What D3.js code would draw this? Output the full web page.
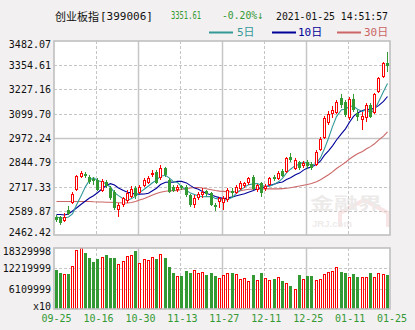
<!DOCTYPE html>
<html><head><meta charset="utf-8">
<script src="https://cdn.jsdelivr.net/npm/d3@7"></script>
<style>
html,body{margin:0;padding:0;background:#f2f0f0;}
svg{display:block;}
</style></head><body>
<svg id="c" width="415" height="330"></svg>
<script>
const dates = [
"09-25","09-28","09-29","09-30","10-09","10-12","10-13","10-14","10-15","10-16",
"10-19","10-20","10-21","10-22","10-23","10-26","10-27","10-28","10-29","10-30",
"11-02","11-03","11-04","11-05","11-06","11-09","11-10","11-11","11-12","11-13",
"11-16","11-17","11-18","11-19","11-20","11-23","11-24","11-25","11-26","11-27",
"11-30","12-01","12-02","12-03","12-04","12-07","12-08","12-09","12-10","12-11",
"12-14","12-15","12-16","12-17","12-18","12-21","12-22","12-23","12-24","12-25",
"12-28","12-29","12-30","12-31","01-04","01-05","01-06","01-07","01-08","01-11",
"01-12","01-13","01-14","01-15","01-18","01-19","01-20","01-21","01-22","01-25"];

const open = [
2558.6,2557.0,2536.0,2593.8,2630.6,2699.0,2767.3,2783.1,2767.3,2756.8,
2751.5,2693.7,2741.0,2709.5,2688.4,2593.8,2620.1,2641.1,2662.2,2709.5,
2683.2,2720.0,2735.8,2777.8,2795.1,2762.0,2814.6,2751.5,2714.7,2698.9,
2720.0,2714.7,2672.7,2620.1,2656.9,2672.7,2693.7,2683.2,2620.1,2635.9,
2630.6,2646.4,2695.3,2681.6,2702.6,2720.0,2735.8,2767.3,2698.9,2735.8,
2704.2,2725.2,2768.9,2756.8,2800.4,2793.6,2872.4,2809.3,2846.1,2825.1,
2846.1,2835.6,2830.4,2909.2,2972.2,3051.1,3098.4,3103.7,3182.5,3161.5,
3077.4,3177.3,3103.7,3066.9,3077.4,3145.7,3103.7,3214.0,3292.9,3366.4];
const high = [
2567.5,2562.3,2578.0,2614.8,2688.4,2777.8,2798.8,2793.6,2777.8,2767.3,
2762.0,2756.8,2751.5,2720.0,2698.9,2630.6,2662.2,2698.9,2720.0,2720.0,
2725.2,2762.0,2772.5,2804.1,2804.1,2830.4,2819.9,2762.0,2725.2,2725.2,
2725.2,2725.2,2677.9,2672.7,2688.4,2709.5,2698.9,2688.4,2630.6,2662.2,
2667.4,2709.5,2709.5,2725.2,2746.3,2741.0,2767.3,2777.8,2730.5,2741.0,
2730.5,2767.3,2777.8,2798.8,2809.3,2872.4,2893.4,2867.1,2851.4,2851.4,
2856.6,2846.1,2909.2,2977.5,3087.9,3114.2,3140.4,3172.0,3203.5,3172.0,
3187.8,3203.5,3119.4,3108.9,3156.2,3156.2,3208.8,3292.9,3371.7,3424.3];
const low = [
2530.7,2515.0,2530.7,2567.5,2625.4,2693.7,2762.0,2762.0,2730.5,2725.2,
2693.7,2688.4,2709.5,2646.4,2593.8,2557.0,2609.6,2630.6,2656.9,2651.7,
2677.9,2714.7,2730.5,2767.3,2730.5,2751.5,2767.3,2683.2,2688.4,2688.4,
2698.9,2662.2,2609.6,2604.3,2646.4,2656.9,2667.4,2614.8,2588.6,2604.3,
2593.8,2635.9,2663.7,2677.9,2698.9,2709.5,2725.2,2698.9,2688.4,2662.2,
2693.7,2720.0,2746.3,2751.5,2767.3,2788.3,2846.1,2804.1,2804.1,2814.6,
2809.3,2804.1,2825.1,2903.9,2967.0,3040.6,3077.4,3098.4,3130.0,3082.7,
3066.9,3108.9,3061.6,3014.3,3056.4,3077.4,3098.4,3208.8,3287.6,3319.1];
const close = [
2541.3,2522.9,2554.4,2572.8,2677.9,2772.5,2788.3,2772.5,2741.0,2746.3,
2698.9,2746.3,2720.0,2656.9,2604.3,2620.1,2656.9,2683.2,2704.2,2667.4,
2714.7,2751.5,2762.0,2789.9,2735.8,2814.6,2777.8,2690.0,2695.3,2714.7,
2709.5,2672.7,2620.1,2656.9,2677.9,2688.4,2677.9,2620.1,2609.6,2656.9,
2656.9,2698.9,2681.6,2716.3,2737.3,2735.8,2762.0,2704.2,2725.2,2683.2,
2720.0,2762.0,2756.8,2788.3,2772.5,2867.1,2856.6,2856.6,2814.6,2840.9,
2825.1,2814.6,2898.7,2966.3,3077.4,3098.4,3119.4,3161.5,3145.7,3093.2,
3177.3,3119.4,3082.7,3087.9,3145.7,3082.7,3203.5,3287.6,3366.4,3351.61];

const volume = [
11720000,10920000,10420000,10420000,12820000,17630000,18329998,16830000,15330000,14220000,
15020000,15630000,16230000,15330000,15330000,13520000,14420000,15830000,16230000,17430000,
13820000,15020000,14720000,15630000,15020000,16530000,15330000,12620000,10820000,9920000,
9920000,11420000,10820000,11720000,10820000,11120000,10220000,10820000,9920000,9320000,
10220000,10820000,10820000,10520000,9010000,9320000,8410000,10220000,8710000,10820000,
9320000,8710000,9010000,9620000,8410000,7810000,6910000,6010000,10220000,9010000,
9920000,9920000,8710000,9010000,10520000,11120000,11420000,12620000,11120000,10820000,
9620000,10520000,9620000,9620000,9620000,10820000,9620000,10820000,10520000,10220000];

const ma5 = [
2557.0,2551.8,2551.8,2557.0,2573.8,2620.1,2673.2,2716.8,2750.4,2764.1,
2749.4,2741.0,2730.5,2713.6,2685.3,2669.5,2651.6,2644.3,2653.7,2666.3,
2685.3,2704.2,2720.0,2737.3,2751.0,2770.9,2776.2,2761.5,2742.6,2738.4,
2717.3,2696.3,2682.6,2674.8,2667.4,2663.2,2664.2,2664.2,2654.8,2650.6,
2644.3,2648.5,2660.6,2682.1,2698.4,2714.2,2726.8,2731.0,2733.1,2722.1,
2718.9,2718.9,2729.4,2742.0,2759.9,2789.3,2808.3,2828.2,2833.5,2847.2,
2838.7,2830.3,2838.7,2869.2,2916.5,2971.2,3032.2,3084.7,3120.5,3123.6,
3139.4,3139.4,3123.6,3112.1,3122.6,3103.6,3120.5,3161.5,3217.2,3258.2];
const ma10 = [
2570.2,2570.2,2567.5,2572.8,2588.6,2604.3,2625.4,2641.1,2656.9,2669.0,
2684.7,2706.8,2723.6,2732.0,2724.7,2709.5,2696.3,2687.4,2683.7,2675.8,
2677.4,2677.9,2682.1,2695.3,2708.4,2727.8,2739.9,2741.0,2739.9,2744.7,
2744.1,2736.3,2722.1,2708.9,2703.1,2690.5,2680.5,2673.2,2664.8,2659.0,
2653.7,2656.4,2662.7,2668.5,2674.2,2679.0,2687.4,2695.8,2707.3,2710.0,
2716.3,2722.6,2730.5,2737.3,2741.0,2754.1,2763.6,2778.8,2787.8,2803.5,
2814.0,2819.3,2833.5,2851.4,2881.8,2905.0,2931.2,2961.7,2994.8,3020.1,
3055.3,3085.8,3104.2,3116.3,3123.1,3121.5,3129.9,3142.5,3164.6,3190.4];
const ma30 = [
2638.5,2638.5,2638.5,2638.5,2638.5,2638.5,2638.5,2638.5,2638.5,2636.9,
2635.9,2635.9,2634.8,2634.3,2633.2,2632.2,2630.6,2630.6,2633.2,2638.5,
2646.4,2654.3,2663.2,2672.7,2680.5,2687.4,2692.1,2694.7,2695.8,2696.3,
2702.1,2706.8,2709.5,2712.1,2712.1,2709.5,2705.8,2700.5,2696.3,2693.2,
2691.6,2690.0,2688.9,2691.0,2695.3,2698.9,2702.6,2703.1,2704.2,2704.7,
2704.7,2705.2,2704.7,2704.7,2706.3,2707.9,2710.5,2716.3,2720.0,2724.2,
2727.8,2732.6,2742.0,2752.5,2765.7,2779.4,2794.1,2811.9,2829.8,2844.5,
2861.9,2876.1,2889.2,2901.8,2915.5,2927.0,2941.8,2961.2,2982.2,3004.8];

const priceTicks = [2462.42,2589.87,2717.33,2844.79,2972.24,3099.70,3227.16,3354.61,3482.07];
const volumeTicks = [0,6109999,12219999,18329998];
const volumeTickLabels = ["x10","6109999","12219999","18329998"];
const xTickDates = ["09-25","10-16","10-30","11-13","11-27","12-11","12-25","01-11","01-25"];

const indexName = "创业板指";
const indexCode = "[399006]";
const lastPrice = "3351.61";
const changePct = "-0.20%";
const timeStamp = "2021-01-25 14:51:57";
const maNames = ["5日","10日","30日"];

// ---------- drawing ----------
const svg = d3.select("#c");
const MONO = "'DejaVu Sans Mono','Liberation Mono','Noto Sans CJK SC',monospace";
const CJK = "'Noto Sans CJK SC','Noto Sans',sans-serif";
const L = 54, R = 390, pT = 41, pB = 235, vT = 248, vB = 309;
const cRed = "#ff0000", cGreen = "#339933";
const maColors = ["#339999","#000099","#cc6666"];
const gridC = "#c6c6c6", borderC = "#c0c0c0";

const x = d3.scaleBand().domain(dates).range([L + 0.5, R]).paddingInner(0).paddingOuter(0);
const step = x.step();
const y = d3.scaleLinear().domain([priceTicks[0], priceTicks[priceTicks.length - 1]]).range([pB, pT]);
const yv = d3.scaleLinear().domain([0, volumeTicks[volumeTicks.length - 1]]).range([vB, vT]);
const bx = d => Math.round(x(d));
const cx = d => bx(d) + 1.5;

function panel(top, bottom, hLines, solidIdx) {
  const g = svg.append("g");
  g.append("rect").attr("x", L).attr("y", top).attr("width", R - L).attr("height", bottom - top).attr("fill", "#fff");
  hLines.forEach((yy, i) => {
    g.append("line").attr("x1", L).attr("x2", R).attr("y1", Math.round(yy) + 0.5).attr("y2", Math.round(yy) + 0.5)
      .attr("stroke", gridC).attr("stroke-width", i === solidIdx ? 1.5 : 1)
      .attr("stroke-dasharray", i === solidIdx ? null : "3,2");
  });
  for (let k = 1; k < 8; k++) {
    const xx = Math.floor(x.range()[0] + k * 10 * step) + 0.5;
    g.append("line").attr("x1", xx).attr("x2", xx).attr("y1", top).attr("y2", bottom)
      .attr("stroke", gridC).attr("stroke-width", k % 2 === 0 ? 1.5 : 1)
      .attr("stroke-dasharray", k % 2 === 0 ? null : "3,2");
  }
  return g;
}
panel(pT, pB, priceTicks.slice(1, -1).map(y), 3);
panel(vT, vB, volumeTicks.slice(1, -1).map(yv), -1);

// watermark
const wm = svg.append("g").attr("opacity", 0.45);
wm.append("path").attr("d", "M340,227 L340,213 L364,200 L388,213 L388,227").attr("fill", "none").attr("stroke", "#f0c8c8").attr("stroke-width", 4);
wm.append("text").attr("x", 310).attr("y", 209).attr("font-family", CJK).attr("font-weight", "bold")
  .attr("font-size", 16).attr("fill", "#d8d2d2").attr("textLength", 72).attr("lengthAdjust", "spacingAndGlyphs").text("金融界");
wm.append("text").attr("x", 312).attr("y", 227).attr("font-family", "Arial,'Liberation Sans',sans-serif").attr("font-weight", "bold")
  .attr("font-size", 8.5).attr("fill", "#dcd4d4").attr("textLength", 40).attr("lengthAdjust", "spacingAndGlyphs").text("JRJ.com");

// MA lines
const idx = d3.range(dates.length);
[[ma30, maColors[2]], [ma10, maColors[1]], [ma5, maColors[0]]].forEach(([arr, col]) => {
  svg.append("path").datum(idx)
    .attr("d", d3.line().x(i => cx(dates[i])).y(i => y(arr[i])))
    .attr("fill", "none").attr("stroke", col).attr("stroke-width", 1.1);
});

// candles
const cg = svg.append("g");
idx.forEach(i => {
  const d = dates[i];
  const up = close[i] >= open[i];
  const col = up ? cRed : cGreen;
  const a = bx(d), c = a + 1.5;
  const yH = Math.round(y(high[i])), yL = Math.round(y(low[i]));
  const yTop = Math.round(y(Math.max(open[i], close[i])));
  const yBot = Math.round(y(Math.min(open[i], close[i])));
  if (up) {
    if (yTop > yH) cg.append("line").attr("x1", c).attr("x2", c).attr("y1", yH).attr("y2", yTop).attr("stroke", col);
    if (yL > yBot) cg.append("line").attr("x1", c).attr("x2", c).attr("y1", yBot).attr("y2", yL).attr("stroke", col);
    cg.append("rect").attr("x", a + 0.5).attr("y", yTop + 0.5).attr("width", 2).attr("height", Math.max(yBot - yTop - 1, 0))
      .attr("fill", "#fff").attr("stroke", col).attr("stroke-width", 1);
  } else {
    cg.append("line").attr("x1", c).attr("x2", c).attr("y1", yH).attr("y2", yL).attr("stroke", col);
    cg.append("rect").attr("x", a).attr("y", yTop).attr("width", 3).attr("height", Math.max(yBot - yTop, 1)).attr("fill", col);
  }
});

// volume bars
const vg = svg.append("g");
idx.forEach(i => {
  const d = dates[i];
  const up = close[i] >= open[i];
  const a = bx(d);
  const top = Math.round(yv(volume[i]));
  if (up) {
    vg.append("rect").attr("x", a + 0.5).attr("y", top + 0.5).attr("width", 2).attr("height", Math.max(vB - top - 1, 0))
      .attr("fill", "#fff").attr("stroke", cRed);
  } else {
    vg.append("rect").attr("x", a).attr("y", top).attr("width", 3).attr("height", vB - top).attr("fill", cGreen);
  }
});

// borders
[[pT, pB], [vT, vB]].forEach(([t, b]) => {
  svg.append("rect").attr("x", L).attr("y", t).attr("width", R - L).attr("height", b - t)
    .attr("fill", "none").attr("stroke", borderC).attr("stroke-width", 1.6);
});

// y axes
function styleAxis(g, top, bottom) {
  g.select(".domain").remove();
  g.selectAll("line").remove();
  g.selectAll("text").attr("font-family", MONO).attr("font-size", 10).attr("fill", "#111")
    .attr("dy", null).attr("dominant-baseline", "central")
    .attr("y", function () {
      const t = d3.select(this.parentNode).attr("transform");
      const ty = +t.match(/,\s*([-\d.]+)/)[1];
      if (ty < top + 3.5) return top + 3.5 - ty;
      if (ty > bottom - 3) return bottom - 3 - ty;
      return 0;
    });
}
const ay = svg.append("g").attr("transform", `translate(${L - 3},0)`)
  .call(d3.axisLeft(y).tickValues(priceTicks).tickFormat(d => d.toFixed(2)).tickSize(0).tickPadding(0));
styleAxis(ay, pT, pB);
const av = svg.append("g").attr("transform", `translate(${L - 3},0)`)
  .call(d3.axisLeft(yv).tickValues(volumeTicks).tickFormat((d, i) => volumeTickLabels[i]).tickSize(0).tickPadding(0));
styleAxis(av, vT, vB);

// x labels
svg.append("g").selectAll("text").data(xTickDates).join("text")
  .attr("x", (d, i) => x(d) + (i === 0 ? step / 2 : step * 1.5))
  .attr("y", 318).attr("dominant-baseline", "central").attr("text-anchor", "middle")
  .attr("font-family", MONO).attr("font-size", 10).attr("fill", cGreen).text(d => d);

// header
const hy = 15.5;
const t1 = svg.append("text").attr("x", 55).attr("y", hy).attr("dominant-baseline", "central").attr("fill", "#111");
t1.append("tspan").attr("font-family", CJK).attr("font-size", 11).text(indexName);
t1.append("tspan").attr("font-family", MONO).attr("font-size", 11).attr("dx", 1).text(indexCode);

svg.append("text").attr("x", 171).attr("y", hy).attr("dominant-baseline", "central")
  .attr("font-family", MONO).attr("font-size", 11).attr("fill", cGreen)
  .attr("textLength", 30).attr("lengthAdjust", "spacingAndGlyphs").text(lastPrice);
svg.append("text").attr("x", 222).attr("y", hy).attr("dominant-baseline", "central")
  .attr("font-family", MONO).attr("font-size", 11).attr("fill", cGreen)
  .attr("textLength", 41).attr("lengthAdjust", "spacingAndGlyphs").text(changePct + "↓");
svg.append("text").attr("x", 276).attr("y", hy).attr("dominant-baseline", "central")
  .attr("font-family", MONO).attr("font-size", 10.5).attr("fill", "#111")
  .attr("textLength", 112).attr("lengthAdjust", "spacingAndGlyphs").text(timeStamp);

// legend
const legX = [[209, 237], [272, 298], [337, 364]];
const legY = 32.5;
maNames.forEach((nm, i) => {
  svg.append("line").attr("x1", legX[i][0]).attr("x2", legX[i][0] + 24).attr("y1", legY).attr("y2", legY)
    .attr("stroke", maColors[i]).attr("stroke-width", 2);
  svg.append("text").attr("x", legX[i][1]).attr("y", legY).attr("dominant-baseline", "central")
    .attr("font-family", MONO).attr("font-size", 11).attr("fill", maColors[i]).text(nm);
});
</script>
</body></html>
